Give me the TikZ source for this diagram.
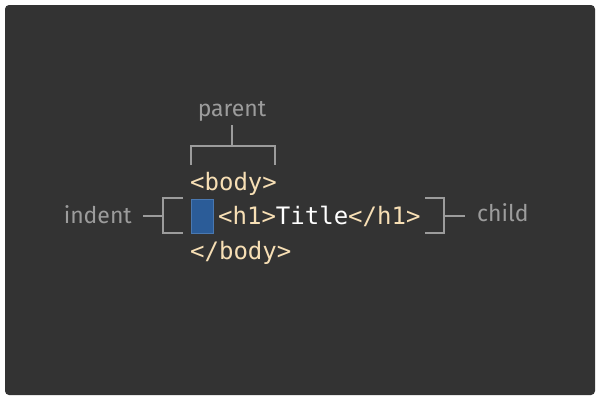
\documentclass[tikz,border=0pt]{standalone}
\usepackage{fontspec}
\setmainfont{Fira Sans}
\setmonofont{DejaVu Sans Mono}
\usetikzlibrary{positioning}
\definecolor{bg}{HTML}{333333}
\definecolor{tagcol}{HTML}{F7DFB5}
\definecolor{lblcol}{HTML}{9C9C9C}
\definecolor{indfill}{HTML}{2B5C98}
\definecolor{indline}{HTML}{4A78B0}

\begin{document}
\begin{tikzpicture}[x=1pt,y=-1pt,
  code/.style={anchor=base west,inner sep=0pt,text=tagcol,
    font=\ttfamily\fontsize{24}{24}\selectfont},
  lbl/.style={text=lblcol,inner sep=0pt,
    font=\fontsize{23}{23}\selectfont},
  brace/.style={draw=lblcol,line width=1.8pt}]
  \useasboundingbox (0,0) rectangle (600,400);
  \fill[bg,rounded corners=4pt] (5,5) rectangle (595,395);

  % code lines
  \node[code] (body) at (190,190) {<body>};
  \node[draw=indline,fill=indfill,line width=1pt,minimum width=22pt,
    minimum height=34pt,inner sep=0pt] (ind) at (202,216) {};
  \node[code] (h1) at (218,224) {<h1>\textcolor{white}{Title}</h1>};
  \node[code] (ebody) at (190,259) {</body>};

  % parent
  \node[lbl,anchor=base] (parent) at (232,116) {parent};
  \coordinate (pl) at (191,165);
  \coordinate (pr) at (275,165);
  \coordinate (pm) at (232,146);
  \draw[brace] (pl) |- (pr |- pm) -- (pr);
  \draw[brace] (pm) -- (232,125);

  % indent
  \node[lbl,anchor=base east] (indent) at (132,223) {indent};
  \coordinate (it) at (183,198);
  \coordinate (ib) at (183,233);
  \draw[brace] (it) -| (163,216) |- (ib);
  \draw[brace] (163,216) -- (143,216);

  % child
  \node[lbl,anchor=base west] (child) at (477,221) {child};
  \coordinate (ct) at (425,198);
  \coordinate (cb) at (425,233);
  \draw[brace] (ct) -| (444,216) |- (cb);
  \draw[brace] (444,216) -- (465,216);
\end{tikzpicture}
\end{document}
